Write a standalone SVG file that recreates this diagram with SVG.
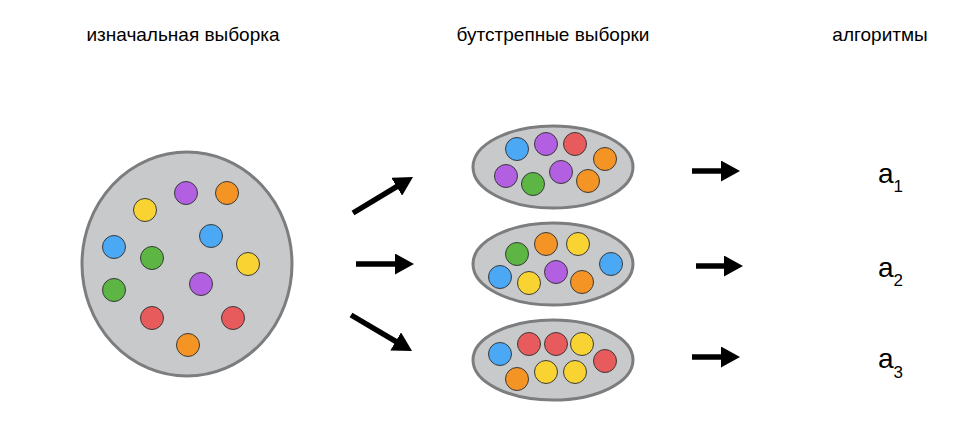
<svg xmlns="http://www.w3.org/2000/svg" width="970" height="426" viewBox="0 0 970 426">
<style>
.bg{fill:#ffffff}
.pool{fill:#c8c9ca;stroke:#7c7d7e;stroke-width:3}
.d{stroke:#3a3a3a;stroke-width:1}
.b{fill:#4ba8f4}.p{fill:#b25fe2}.r{fill:#e85b5d}.o{fill:#f39425}.y{fill:#f8d332}.g{fill:#5db543}
.t{font-family:"Liberation Sans",Arial,sans-serif;font-size:19px;fill:#000;text-anchor:middle}
.a{font-family:"Liberation Sans",Arial,sans-serif;font-size:28px;fill:#000}
.s{font-size:17px}
.ar{stroke:#000;stroke-width:5.5;fill:none;marker-end:url(#ah)}
</style>
<defs>
<marker id="ah" markerUnits="userSpaceOnUse" viewBox="0 0 19 21" markerWidth="19" markerHeight="21" refX="2" refY="10.5" orient="auto">
<path d="M0,0 L19,10.5 L0,21 Z" fill="#000"/>
</marker>
</defs>
<rect class="bg" width="970" height="426"/>
<g id="titles">
<text class="t" x="183" y="41">изначальная выборка</text>
<text class="t" x="553" y="41">бутстрепные выборки</text>
<text class="t" x="880" y="41">алгоритмы</text>
</g>
<g id="original-sample">
<ellipse class="pool" cx="187" cy="264" rx="105" ry="112"/>
<circle class="d p" cx="186" cy="193" r="11.5"/>
<circle class="d o" cx="227" cy="193" r="11.5"/>
<circle class="d y" cx="145" cy="210" r="11.5"/>
<circle class="d b" cx="211" cy="236" r="11.5"/>
<circle class="d b" cx="114" cy="247" r="11.5"/>
<circle class="d g" cx="152" cy="258" r="11.5"/>
<circle class="d y" cx="248" cy="264" r="11.5"/>
<circle class="d g" cx="114" cy="290" r="11.5"/>
<circle class="d p" cx="201" cy="284" r="11.5"/>
<circle class="d r" cx="152" cy="318" r="11.5"/>
<circle class="d r" cx="233" cy="318" r="11.5"/>
<circle class="d o" cx="188" cy="345" r="11.5"/>
</g>
<g id="bootstrap-1">
<ellipse class="pool" cx="553" cy="167" rx="80" ry="41"/>
<circle class="d b" cx="517" cy="149" r="11.5"/>
<circle class="d p" cx="546" cy="144" r="11.5"/>
<circle class="d r" cx="575" cy="144" r="11.5"/>
<circle class="d o" cx="605" cy="159" r="11.5"/>
<circle class="d p" cx="506" cy="176" r="11.5"/>
<circle class="d g" cx="533" cy="184" r="11.5"/>
<circle class="d p" cx="561" cy="172" r="11.5"/>
<circle class="d o" cx="588" cy="181" r="11.5"/>
</g>
<g id="bootstrap-2">
<ellipse class="pool" cx="553" cy="264" rx="80" ry="41"/>
<circle class="d g" cx="517" cy="254" r="11.5"/>
<circle class="d o" cx="546" cy="244" r="11.5"/>
<circle class="d y" cx="578" cy="244" r="11.5"/>
<circle class="d b" cx="611" cy="264" r="11.5"/>
<circle class="d b" cx="500" cy="277" r="11.5"/>
<circle class="d y" cx="529" cy="283" r="11.5"/>
<circle class="d p" cx="556" cy="272" r="11.5"/>
<circle class="d o" cx="582" cy="282" r="11.5"/>
</g>
<g id="bootstrap-3">
<ellipse class="pool" cx="553" cy="360" rx="80" ry="40"/>
<circle class="d b" cx="500" cy="354" r="11.5"/>
<circle class="d r" cx="529" cy="344" r="11.5"/>
<circle class="d r" cx="556" cy="344" r="11.5"/>
<circle class="d y" cx="582" cy="344" r="11.5"/>
<circle class="d r" cx="605" cy="361" r="11.5"/>
<circle class="d o" cx="517" cy="379" r="11.5"/>
<circle class="d y" cx="546" cy="372" r="11.5"/>
<circle class="d y" cx="575" cy="372" r="11.5"/>
</g>
<g id="algo-1"><text class="a" x="878" y="183">a<tspan class="s" dy="9">1</tspan></text></g>
<g id="algo-2"><text class="a" x="878" y="277">a<tspan class="s" dy="9">2</tspan></text></g>
<g id="algo-3"><text class="a" x="878" y="368">a<tspan class="s" dy="10">3</tspan></text></g>
<g id="connectors">
<path class="ar" d="M353,213 L398.4,185.7"/>
<path class="ar" d="M356,264 L397,264"/>
<path class="ar" d="M351,315 L397.4,342.4"/>
<path class="ar" d="M692,171 L723,171"/>
<path class="ar" d="M696,266 L726,266"/>
<path class="ar" d="M692,357 L723,357"/>
</g>
</svg>
